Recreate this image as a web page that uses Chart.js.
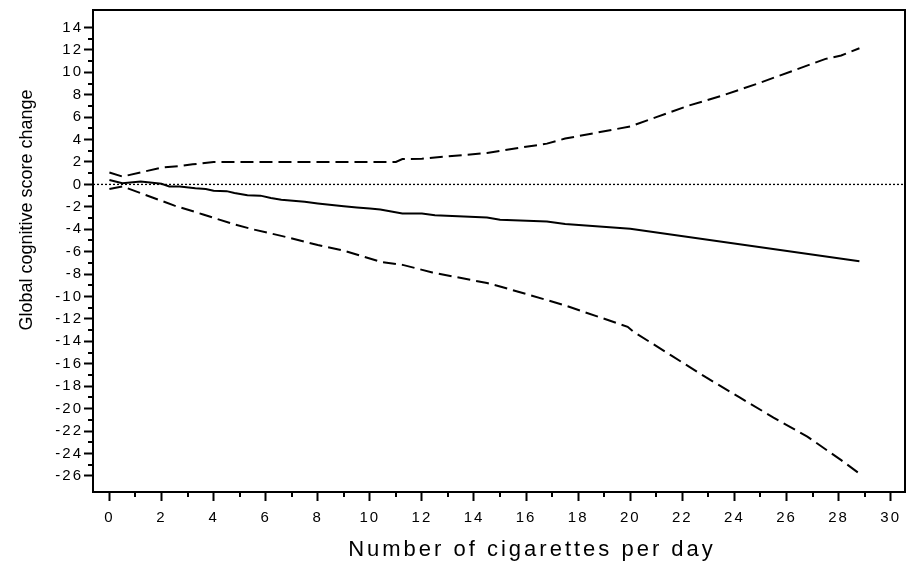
<!DOCTYPE html>
<html><head><meta charset="utf-8">
<script src="https://cdn.jsdelivr.net/npm/chart.js@4/dist/chart.umd.min.js"></script>
<style>html,body{margin:0;padding:0;background:#fff;}</style>
</head><body>
<canvas id="c" width="917" height="568"></canvas>
<script>
// ---- data ----
const estX   = [0, 0.5, 1.2, 2.0, 2.3, 2.7, 3.3, 3.7, 4.0, 4.5, 4.8, 5.3, 5.8, 6.2, 6.6, 7.5, 8.0, 9.0, 9.5, 10.0, 10.4, 11.25, 12.0, 12.5, 14.5, 15.0, 16.8, 17.5, 20.0, 28.8];
const estY   = [0.4, 0.1, 0.25, 0.05, -0.18, -0.18, -0.35, -0.4, -0.56, -0.6, -0.77, -0.97, -1.0, -1.21, -1.36, -1.55, -1.7, -1.95, -2.05, -2.15, -2.24, -2.6, -2.6, -2.74, -2.95, -3.15, -3.3, -3.53, -3.95, -6.86];
const upperX = [0, 0.5, 2.0, 2.7, 3.2, 4.0, 6.0, 8.0, 10.0, 11.0, 11.25, 12.0, 12.5, 14.5, 15.0, 16.8, 17.5, 20.0, 21.0, 22.2, 23.5, 24.9, 26.2, 27.5, 28.1, 28.8];
const upperY = [1.06, 0.7, 1.5, 1.64, 1.79, 2.0, 2.0, 2.0, 2.0, 2.0, 2.26, 2.29, 2.4, 2.8, 3.0, 3.64, 4.09, 5.17, 6.0, 7.0, 7.9, 9.0, 10.1, 11.2, 11.5, 12.15];
const lowerX = [0, 0.5, 2.5, 3.6, 4.8, 5.5, 6.6, 8.0, 9.0, 10.4, 11.3, 12.4, 14.5, 15.0, 16.7, 17.5, 19.9, 20.1, 21.6, 22.9, 24.2, 25.5, 26.8, 28.1, 28.8];
const lowerY = [-0.41, -0.18, -1.89, -2.68, -3.57, -4.0, -4.59, -5.4, -5.9, -6.9, -7.2, -7.85, -8.8, -9.1, -10.25, -10.8, -12.7, -13.1, -15.3, -17.2, -19.0, -20.8, -22.5, -24.6, -25.8];
const zeroX  = [-0.63, 30.55];
const zeroY  = [0, 0];
const xTicks = [0, 2, 4, 6, 8, 10, 12, 14, 16, 18, 20, 22, 24, 26, 28, 30];
const xMinor = [1, 3, 5, 7, 9, 11, 13, 15, 17, 19, 21, 23, 25, 27, 29];
const yTicks = [-26, -24, -22, -20, -18, -16, -14, -12, -10, -8, -6, -4, -2, 0, 2, 4, 6, 8, 10, 12, 14];
const yMinor = [-25, -23, -21, -19, -17, -15, -13, -11, -9, -7, -5, -3, -1, 1, 3, 5, 7, 9, 11, 13];
const xTitle = 'Number of cigarettes per day';
const yTitle = 'Global cognitive score change';

const pts = (xs, ys) => xs.map((x, i) => ({x: x, y: ys[i]}));
const FONT = '"Liberation Sans", Arial, sans-serif';

const framePlugin = {
  id: 'frame',
  beforeDraw(chart) { chart.ctx.letterSpacing = '2px'; },
  afterDraw(chart) {
    const ctx = chart.ctx, a = chart.chartArea;
    const xs = chart.scales.x, ys = chart.scales.y;
    ctx.save();
    ctx.strokeStyle = '#000';
    ctx.lineWidth = 2;
    ctx.strokeRect(a.left, a.top, a.right - a.left, a.bottom - a.top);
    ctx.beginPath();
    xMinor.forEach(v => { const p = Math.round(xs.getPixelForValue(v)); ctx.moveTo(p, a.bottom); ctx.lineTo(p, a.bottom + 5); });
    yMinor.forEach(v => { const p = Math.round(ys.getPixelForValue(v)); ctx.moveTo(a.left, p); ctx.lineTo(a.left - 5, p); });
    ctx.stroke();
    ctx.fillStyle = '#000';
    ctx.textAlign = 'center';
    ctx.textBaseline = 'middle';
    ctx.letterSpacing = '3px';
    ctx.font = '22px ' + FONT;
    ctx.fillText(xTitle, 532, 550);
    ctx.letterSpacing = '0px';
    ctx.font = '18px ' + FONT;
    ctx.translate(27, 210);
    ctx.rotate(-Math.PI / 2);
    ctx.fillText(yTitle, 0, 0);
    ctx.restore();
  }
};

const common = {
  borderColor: '#000', pointRadius: 0, tension: 0, fill: false, borderWidth: 2
};

new Chart(document.getElementById('c'), {
  type: 'line',
  data: {
    datasets: [
      Object.assign({}, common, {data: pts(zeroX, zeroY), borderWidth: 1.3, borderDash: [2, 2]}),
      Object.assign({}, common, {data: pts(upperX, upperY), borderDash: [13, 6]}),
      Object.assign({}, common, {data: pts(lowerX, lowerY), borderDash: [13, 6]}),
      Object.assign({}, common, {data: pts(estX, estY)})
    ]
  },
  options: {
    responsive: false,
    animation: false,
    devicePixelRatio: 1,
    layout: {padding: {top: 5, right: 12, left: 0, bottom: 0}},
    plugins: {legend: {display: false}, tooltip: {enabled: false}, title: {display: false}},
    scales: {
      x: {
        type: 'linear', min: -0.63, max: 30.55,
        afterBuildTicks: s => { s.ticks = xTicks.map(v => ({value: v})); },
        afterFit: s => { s.height = 76; },
        border: {display: false},
        grid: {drawOnChartArea: false, drawTicks: true, tickLength: 9, tickWidth: 2, tickColor: '#000'},
        ticks: {color: '#000', font: {family: FONT, size: 15}, padding: 8, maxRotation: 0, autoSkip: false}
      },
      y: {
        type: 'linear', min: -27.44, max: 15.56,
        afterBuildTicks: s => { s.ticks = yTicks.map(v => ({value: v})); },
        afterFit: s => { s.width = 93; },
        border: {display: false},
        grid: {drawOnChartArea: false, drawTicks: true, tickLength: 9, tickWidth: 2, tickColor: '#000'},
        ticks: {color: '#000', font: {family: FONT, size: 15}, padding: 1, autoSkip: false}
      }
    }
  },
  plugins: [framePlugin]
});
</script>
</body></html>
